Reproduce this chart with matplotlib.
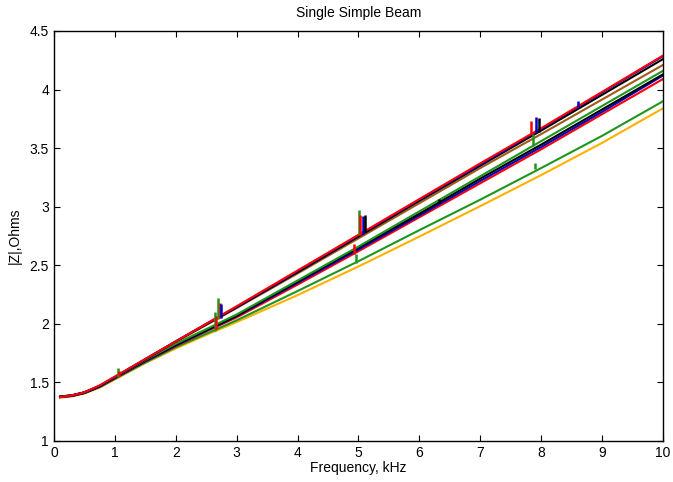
import numpy as np
import matplotlib
matplotlib.use("Agg")
import matplotlib.pyplot as plt
from matplotlib.ticker import FormatStrFormatter

plt.rcParams["font.family"] = ["Liberation Sans", "DejaVu Sans"]

# frequency grid, kHz
freq = [0.1, 0.3, 0.5, 0.75, 1.0, 1.5, 2.0, 2.5, 3.0, 4.0, 5.0, 6.0, 7.0, 8.0, 9.0, 10.0]

# |Z| in ohms for each run
z_orange = [1.37, 1.38, 1.405, 1.455, 1.525, 1.665, 1.79, 1.905, 2.015, 2.245, 2.49, 2.745, 3.005, 3.27, 3.545, 3.84]
z_green_low = [1.375, 1.385, 1.41, 1.46, 1.53, 1.67, 1.80, 1.915, 2.03, 2.28, 2.535, 2.80, 3.06, 3.33, 3.605, 3.90]
z_red_mid = [1.375, 1.385, 1.41, 1.465, 1.535, 1.68, 1.81, 1.935, 2.055, 2.335, 2.62, 2.91, 3.20, 3.49, 3.79, 4.09]
z_blue_mid = [1.375, 1.385, 1.41, 1.465, 1.54, 1.68, 1.815, 1.94, 2.065, 2.35, 2.635, 2.925, 3.22, 3.51, 3.81, 4.12]
z_black_mid = [1.375, 1.39, 1.41, 1.465, 1.54, 1.685, 1.82, 1.945, 2.07, 2.36, 2.65, 2.94, 3.24, 3.53, 3.83, 4.13]
z_green_mid = [1.375, 1.39, 1.415, 1.47, 1.545, 1.69, 1.83, 1.955, 2.08, 2.37, 2.66, 2.96, 3.26, 3.56, 3.86, 4.16]
z_brown = [1.38, 1.39, 1.415, 1.47, 1.545, 1.695, 1.845, 1.99, 2.135, 2.43, 2.73, 3.03, 3.33, 3.62, 3.915, 4.21]
z_black_top = [1.38, 1.39, 1.415, 1.47, 1.545, 1.695, 1.85, 1.995, 2.14, 2.44, 2.745, 3.05, 3.35, 3.65, 3.955, 4.26]
z_blue_top = [1.375, 1.39, 1.415, 1.47, 1.545, 1.70, 1.85, 2.00, 2.145, 2.45, 2.755, 3.06, 3.36, 3.665, 3.975, 4.285]
z_red_top = [1.375, 1.39, 1.415, 1.475, 1.55, 1.70, 1.85, 2.00, 2.15, 2.455, 2.76, 3.065, 3.37, 3.67, 3.98, 4.29]

runs = [z_orange, z_green_low, z_red_mid, z_blue_mid, z_black_mid,
        z_green_mid, z_brown, z_black_top, z_blue_top, z_red_top]
run_colors = ["#ffb000", "#1e961e", "#ff0000", "#0000c8", "#000000",
              "#1e961e", "#a05a14", "#000000", "#0000c8", "#ff0000"]

# resonance spikes: frequency, base and peak value, colour
spike_f = [1.05, 1.07, 2.64, 2.66, 2.70, 2.72, 2.74, 4.93, 4.96, 5.01, 5.03, 5.07, 5.10,
           6.32, 7.83, 7.86, 7.90, 7.92, 7.97, 8.60]
spike_lo = [1.55, 1.555, 1.94, 1.96, 2.04, 2.05, 2.05, 2.60, 2.52, 2.76, 2.76, 2.77, 2.78,
            3.03, 3.62, 3.52, 3.32, 3.64, 3.64, 3.85]
spike_hi = [1.62, 1.60, 2.10, 2.07, 2.22, 2.18, 2.17, 2.68, 2.60, 2.97, 2.93, 2.92, 2.93,
            3.07, 3.73, 3.62, 3.37, 3.77, 3.76, 3.90]
spike_c = ["#1e961e", "#ff0000", "#1e961e", "#ff0000", "#1e961e", "#ff0000", "#0000c8",
           "#ff0000", "#1e961e", "#1e961e", "#ff0000", "#0000c8", "#000000",
           "#000000", "#ff0000", "#1e961e", "#1e961e", "#0000c8", "#000000", "#0000c8"]

fig = plt.figure(figsize=(6.73, 4.82), dpi=100)
ax = fig.add_axes([0.0802, 0.0851, 0.9049, 0.8506])

for z, c in zip(runs, run_colors):
    ax.plot(freq, z, color=c, lw=1.5)
ax.vlines(spike_f, spike_lo, spike_hi, colors=spike_c, lw=1.8)

ax.set_xlim(0, 10)
ax.set_ylim(1, 4.5)
ax.set_xticks(np.arange(0, 11, 1))
ax.set_yticks(np.arange(1, 4.51, 0.5))
ax.yaxis.set_major_formatter(FormatStrFormatter("%g"))
ax.tick_params(direction="in", top=True, right=True, length=4, width=0.8, labelsize=10)
for s in ax.spines.values():
    s.set_linewidth(1.0)

ax.set_title("Single Simple Beam", fontsize=10, pad=10)
ax.set_xlabel("Frequency, kHz", fontsize=10, labelpad=1)
ax.set_ylabel("|Z|,Ohms", fontsize=10, labelpad=6)

fig.savefig("out.png", dpi=100)
